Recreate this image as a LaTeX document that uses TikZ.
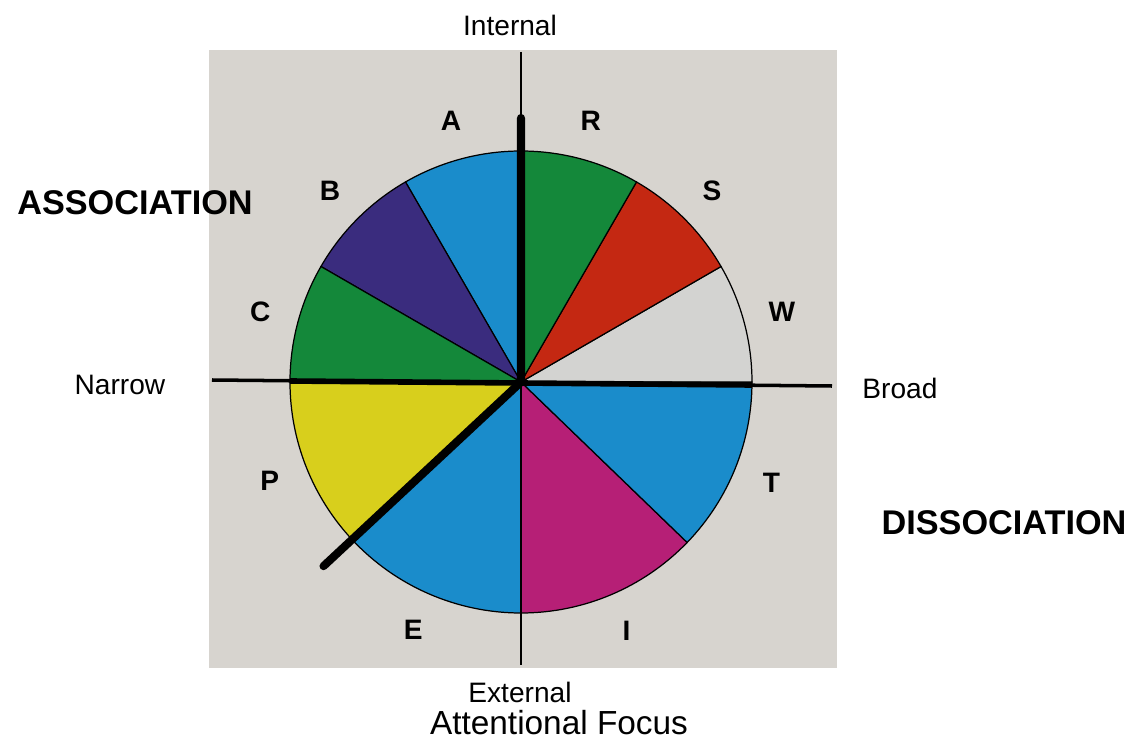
\documentclass[tikz,border=0pt]{standalone}
\usepackage{fontspec}
\setmainfont{Liberation Sans}

\definecolor{panelgray}{HTML}{D7D4CF}
\definecolor{skyblue}{HTML}{1A8CCB}
\definecolor{indigo}{HTML}{3A2C7E}
\definecolor{leafgreen}{HTML}{14883A}
\definecolor{lemon}{HTML}{D8CF1C}
\definecolor{magenta}{HTML}{B61F76}
\definecolor{brickred}{HTML}{C42812}
\definecolor{paleslate}{HTML}{D3D3D1}

\begin{document}
\begin{tikzpicture}[x=0.02cm,y=0.02cm,line cap=round,line join=round,
		sector/.style={draw=black,line width=0.7pt},
		axis/.style={line width=1.3pt,line cap=butt},
		pointer/.style={line width=4.6pt},
		letter/.style={font=\bfseries\fontsize{16}{19}\selectfont},
		pole/.style={font=\fontsize{16}{19}\selectfont},
		mode/.style={font=\bfseries\fontsize{19.5}{23}\selectfont}]
		\useasboundingbox (-521,-359) rectangle (609,382);

		% grey panel behind the wheel
		\fill[panelgray] (-312,-286) rectangle (316,332);

		% draw the sectors and their letters
		\foreach \a/\b/\col/\lab in {
		90/120/skyblue/A,
		120/150/indigo/B,
		150/180/leafgreen/C,
		180/223/lemon/P,
		223/270/skyblue/E,
		270/316/magenta/I,
		316/360/skyblue/T,
		0/30/paleslate/W,
		30/60/brickred/S,
		60/90/leafgreen/R}
		{
			\filldraw[sector,fill=\col] (0,0) -- (\a:231) arc[start angle=\a,end angle=\b,radius=231] -- cycle;
			\node[letter] (\lab) at ({(\a+\b)/2}:270) {\lab};
		}

		% axes
		\coordinate (centre) at (0,0);
		\coordinate (top) at (0,330);
		\coordinate (bottom) at (0,-283);
		\coordinate (narrowend) at (-309,2);
		\coordinate (broadend) at (311,-4);
		\coordinate (rimleft) at (-231,1);
		\coordinate (rimright) at (231,-3);
		\draw[axis] (top) -- (bottom);
		\draw[axis,line width=2pt] (narrowend) -- (broadend);
		\draw[line width=3.2pt,line cap=butt] (rimleft) -- (rimright);

		% thick pointer
		\coordinate (tip) at (0,264);
		\coordinate (tail) at (223:270);
		\draw[pointer] (tip) -- (centre) -- (tail);

		% pole labels
		\node[pole] (internal) at (-11,357) {Internal};
		\node[pole] (external) at (-1,-310) {External};
		\node[pole] (narrow) at (-401,-3) {Narrow};
		\node[pole] (broad) at (379,-6) {Broad};
		\node[font=\fontsize{19}{22}\selectfont,inner sep=0pt] (focus) at (38,-341) {Attentional Focus};

		% the two modes
		\node[mode] (association) at (-386,179) {ASSOCIATION};
		\node[mode] (dissociation) at (483,-141) {DISSOCIATION};
	\end{tikzpicture}
\end{document}
